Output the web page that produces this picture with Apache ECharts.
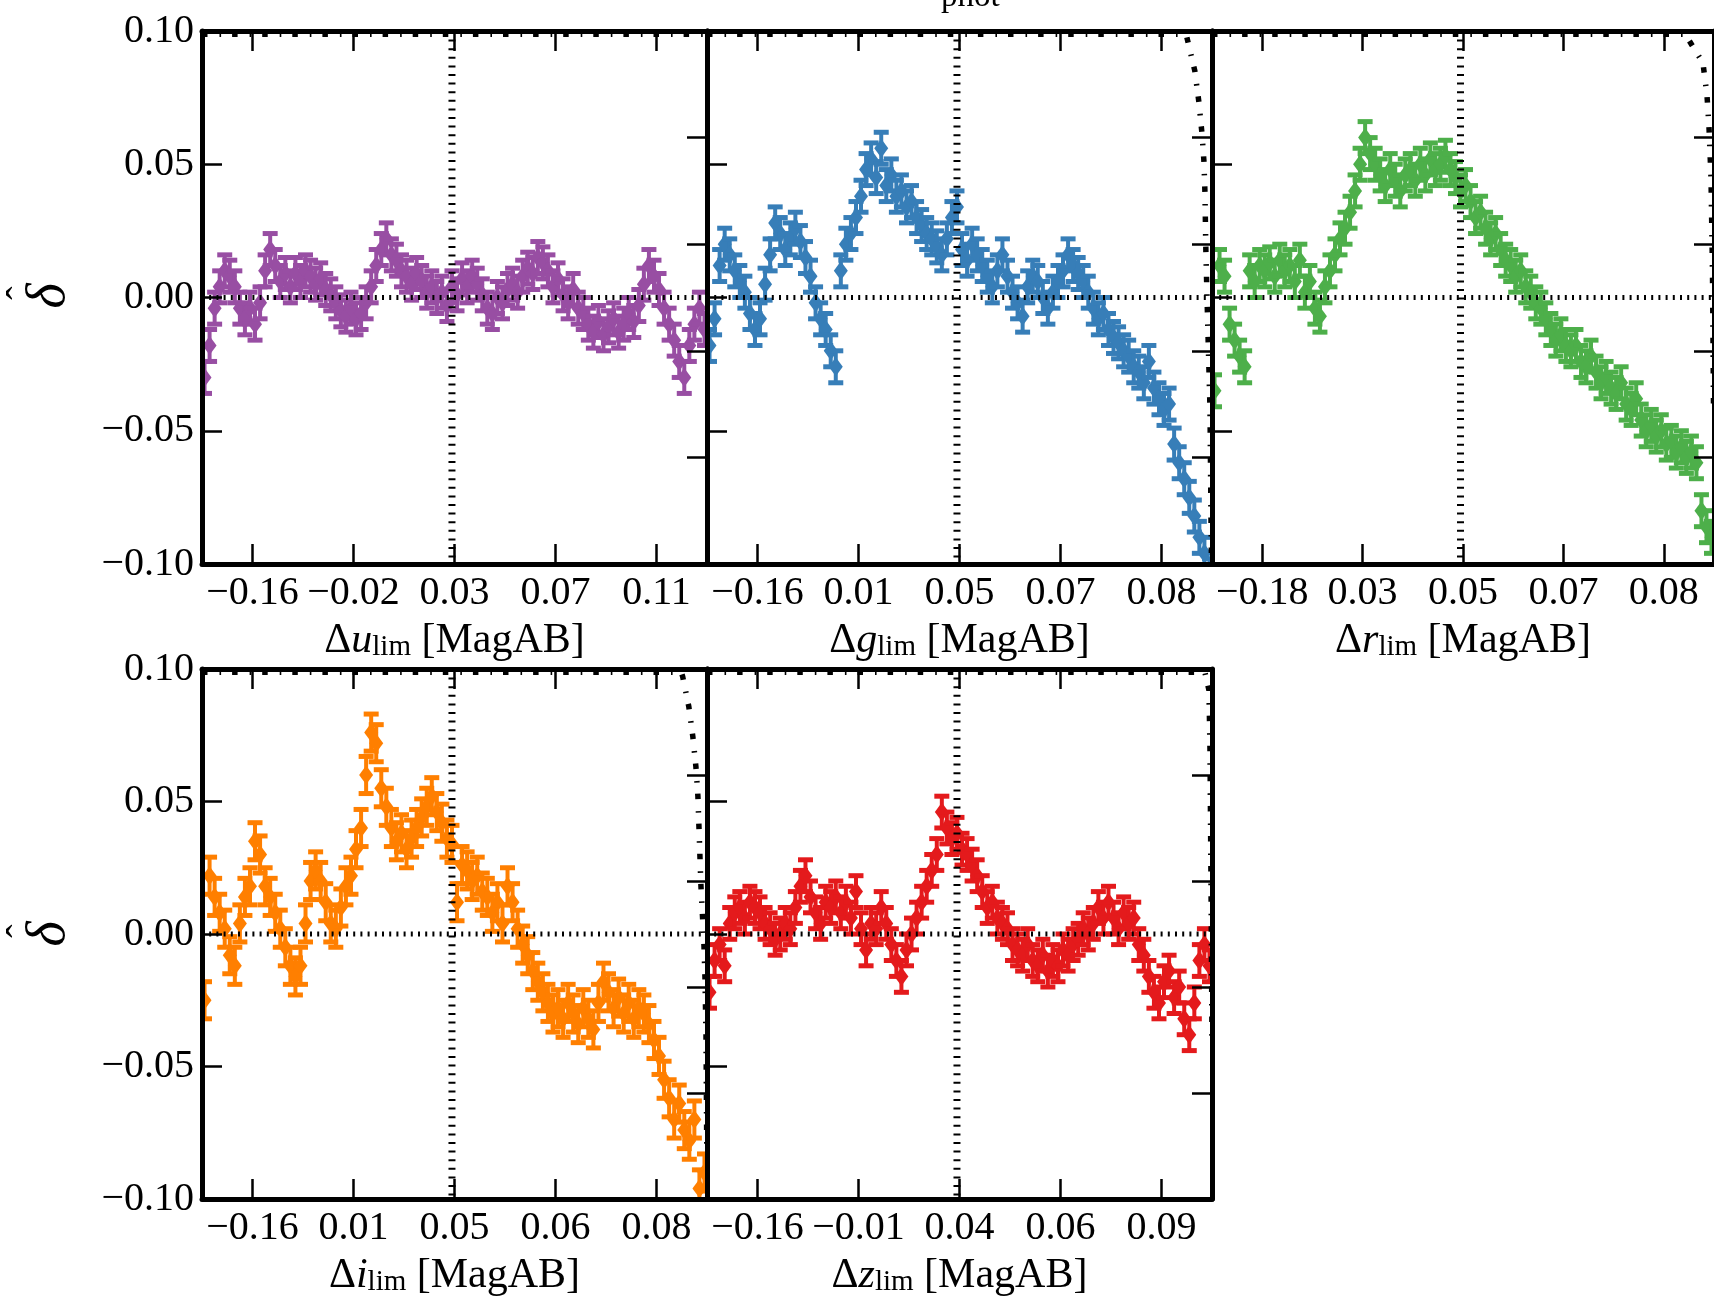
<!DOCTYPE html>
<html>
<head>
<meta charset="utf-8">
<script src="https://cdn.jsdelivr.net/npm/echarts@6/dist/echarts.min.js"></script>
<style>
  html, body { margin: 0; padding: 0; background: #ffffff; }
  #chart { width: 1714px; height: 1298px; }
</style>
</head>
<body>
<div id="chart"></div>
<script>
// Rank positions (percent of the sample) where the quantile ticks sit
const tickRanks = [10, 30, 50, 70, 90];
const medianRank = 49.5;

// Quantile values of the limiting-magnitude offset shown at each tick
const uTicks = ['−0.16', '−0.02', '0.03', '0.07', '0.11'];
const gTicks = ['−0.16', '0.01', '0.05', '0.07', '0.08'];
const rTicks = ['−0.18', '0.03', '0.05', '0.07', '0.08'];
const iTicks = ['−0.16', '0.01', '0.05', '0.06', '0.08'];
const zTicks = ['−0.16', '−0.01', '0.04', '0.06', '0.09'];

// delta-hat in 100 rank bins, one array per band
const uDelta = [
  -0.030, -0.018, -0.004, 0.004, 0.010, 0.008, 0.004, -0.004, -0.008, -0.004,
  -0.010, -0.002, 0.010, 0.018, 0.012, 0.006, 0.009, 0.004, 0.009, 0.006,
  0.010, 0.008, 0.005, 0.007, 0.003, 0.001, -0.002, -0.005, -0.007, -0.004,
  -0.008, -0.006, -0.002, 0.004, 0.012, 0.018, 0.022, 0.016, 0.014, 0.010,
  0.008, 0.005, 0.009, 0.006, 0.002, 0.004, 0.000, 0.002, -0.003, 0.004,
  0.001, 0.007, 0.004, 0.008, 0.005, 0.001, -0.004, -0.006, 0.000, -0.002,
  0.003, 0.005, 0.002, 0.008, 0.011, 0.009, 0.015, 0.013, 0.010, 0.004,
  0.007, 0.001, -0.002, 0.003, -0.004, -0.006, -0.010, -0.013, -0.009, -0.014,
  -0.011, -0.008, -0.013, -0.010, -0.006, -0.009, -0.003, 0.005, 0.012, 0.008,
  0.003, -0.004, -0.010, -0.016, -0.024, -0.030, -0.018, -0.010, -0.004, -0.012
];
const gDelta = [
  -0.018, -0.008, 0.012, 0.020, 0.016, 0.010, 0.006, 0.002, -0.006, -0.012,
  -0.008, 0.005, 0.016, 0.028, 0.024, 0.018, 0.022, 0.026, 0.021, 0.015,
  0.008, -0.002, -0.008, -0.012, -0.020, -0.026, 0.010, 0.020, 0.024, 0.030,
  0.038, 0.048, 0.052, 0.045, 0.056, 0.042, 0.046, 0.038, 0.040, 0.034,
  0.036, 0.030, 0.027, 0.024, 0.022, 0.019, 0.016, 0.022, 0.030, 0.034,
  0.018, 0.014, 0.020, 0.016, 0.012, 0.008, 0.004, 0.010, 0.016, 0.008,
  0.002, -0.002, -0.007, 0.004, 0.008, 0.006, 0.000, -0.004, 0.002, 0.006,
  0.010, 0.016, 0.012, 0.009, 0.006, 0.002, -0.004, -0.008, -0.006, -0.012,
  -0.015, -0.017, -0.020, -0.022, -0.026, -0.028, -0.032, -0.024, -0.034, -0.038,
  -0.042, -0.040, -0.055, -0.062, -0.068, -0.075, -0.082, -0.090, -0.096, -0.104
];
const rDelta = [
  -0.035, 0.012, 0.008, -0.010, -0.016, -0.022, -0.026, 0.010, 0.006, 0.012,
  0.010, 0.013, 0.008, 0.014, 0.010, 0.012, 0.006, 0.014, 0.002, 0.006,
  -0.004, -0.007, 0.004, 0.010, 0.016, 0.022, 0.026, 0.032, 0.040, 0.050,
  0.060, 0.054, 0.050, 0.046, 0.042, 0.048, 0.044, 0.040, 0.046, 0.048,
  0.044, 0.050, 0.046, 0.052, 0.048, 0.050, 0.053, 0.048, 0.045, 0.040,
  0.042, 0.036, 0.030, 0.032, 0.026, 0.022, 0.024, 0.018, 0.014, 0.012,
  0.008, 0.010, 0.004, 0.002, -0.002, -0.004, -0.008, -0.012, -0.016, -0.014,
  -0.018, -0.020, -0.018, -0.024, -0.026, -0.022, -0.028, -0.032, -0.030, -0.034,
  -0.036, -0.032, -0.040, -0.042, -0.038, -0.046, -0.050, -0.048, -0.052, -0.050,
  -0.055, -0.054, -0.058, -0.056, -0.060, -0.058, -0.062, -0.080, -0.086, -0.090
];
const iDelta = [
  -0.025, 0.022, 0.014, 0.008, 0.002, -0.008, -0.012, 0.004, 0.014, 0.018,
  0.035, 0.030, 0.018, 0.014, 0.008, 0.002, -0.005, -0.012, -0.016, -0.012,
  0.004, 0.020, 0.024, 0.020, 0.012, 0.004, 0.002, 0.010, 0.018, 0.022,
  0.032, 0.040, 0.060, 0.076, 0.072, 0.055, 0.048, 0.040, 0.035, 0.038,
  0.032, 0.036, 0.040, 0.044, 0.048, 0.052, 0.046, 0.042, 0.036, 0.034,
  0.012, 0.026, 0.024, 0.020, 0.022, 0.016, 0.014, 0.008, 0.012, 0.004,
  0.018, 0.012, 0.002, -0.004, -0.008, -0.014, -0.018, -0.022, -0.026, -0.030,
  -0.028, -0.032, -0.026, -0.030, -0.034, -0.028, -0.032, -0.036, -0.026, -0.018,
  -0.022, -0.028, -0.024, -0.030, -0.026, -0.032, -0.028, -0.030, -0.034, -0.040,
  -0.046, -0.055, -0.062, -0.070, -0.064, -0.074, -0.078, -0.070, -0.096, -0.090
];
const zDelta = [
  -0.022, -0.010, -0.004, -0.012, 0.004, 0.008, 0.010, 0.006, 0.012, 0.010,
  0.008, 0.004, 0.002, -0.002, 0.000, 0.004, 0.002, 0.010, 0.018, 0.022,
  0.014, 0.008, 0.004, 0.012, 0.010, 0.014, 0.008, 0.012, 0.006, 0.016,
  0.002, -0.006, 0.004, 0.002, 0.010, 0.004, -0.004, -0.010, -0.016, -0.006,
  0.000, 0.006, 0.012, 0.018, 0.024, 0.030, 0.046, 0.040, 0.036, 0.038,
  0.032, 0.030, 0.026, 0.022, 0.016, 0.010, 0.012, 0.006, 0.004, 0.002,
  -0.004, -0.006, -0.008, -0.004, -0.010, -0.012, -0.008, -0.014, -0.010, -0.012,
  -0.006, -0.008, -0.004, -0.002, 0.002, 0.000, 0.004, 0.010, 0.006, 0.012,
  0.006, 0.002, 0.008, 0.004, 0.006, -0.004, -0.008, -0.016, -0.022, -0.026,
  -0.018, -0.014, -0.024, -0.020, -0.032, -0.038, -0.026, -0.010, -0.004, -0.012
];

// 1-sigma uncertainty on delta-hat for each band
const uErr = 0.006;
const gErr = 0.006;
const rErr = 0.006;
const iErr = 0.007;
const zErr = 0.006;

// Cumulative completeness curve per band (rank, fraction), read on the right-hand axis
const uCurve = [[0, 0.994], [100, 0.994]];
const gCurve = [[0, 0.994], [94.6, 0.994], [95.0, 0.989], [96.6, 0.925], [97.4, 0.867], [98.0, 0.809],
  [98.4, 0.756], [98.6, 0.698], [98.8, 0.58], [99.2, 0.433], [99.6, 0.293], [99.8, 0.086], [99.9, 0]];
const rCurve = [[0, 0.994], [94.4, 0.994], [94.6, 0.989], [97.8, 0.94], [98.6, 0.88], [99.0, 0.82],
  [99.4, 0.725], [99.7, 0.55], [99.9, 0.3]];
const iCurve = [[0, 0.994], [94.9, 0.994], [95.2, 0.985], [96.4, 0.929], [97.2, 0.872], [97.8, 0.816],
  [98.2, 0.76], [98.4, 0.704], [98.6, 0.647], [98.8, 0.591], [99.1, 0.535], [99.4, 0.478],
  [99.6, 0.417], [99.8, 0.31], [99.95, 0.1]];
const zCurve = [[0, 0.994], [98.6, 0.994], [98.8, 0.985], [99.4, 0.96], [99.5, 0.904], [99.6, 0.848],
  [99.8, 0.6], [100, 0.3]];

const bands = [
  { band: 'u', delta: uDelta, err: uErr, ticks: uTicks, curve: uCurve, color: '#984ea3', left: 202, top: 31, yLabels: true },
  { band: 'g', delta: gDelta, err: gErr, ticks: gTicks, curve: gCurve, color: '#377eb8', left: 707, top: 31, yLabels: false },
  { band: 'r', delta: rDelta, err: rErr, ticks: rTicks, curve: rCurve, color: '#4daf4a', left: 1212, top: 31, yLabels: false },
  { band: 'i', delta: iDelta, err: iErr, ticks: iTicks, curve: iCurve, color: '#ff7f00', left: 202, top: 669, yLabels: true },
  { band: 'z', delta: zDelta, err: zErr, ticks: zTicks, curve: zCurve, color: '#e41a1c', left: 707, top: 669, yLabels: false }
];

const PANEL_W = 505, PANEL_H = 533;
const SERIF = '"Liberation Serif", "DejaVu Serif", serif';
const BORDER = 5;

function fmtY(v) {
  if (Math.abs(v) < 1e-9) return '0.00';
  return (v < 0 ? '−' : '') + Math.abs(v).toFixed(2);
}

// error bar with caps and a thin diamond marker
function renderErrorBar(params, api) {
  const x = api.value(0), y = api.value(1), e = api.value(2);
  const c = api.coord([x, y]);
  const hi = api.coord([x, y + e]);
  const lo = api.coord([x, y - e]);
  const color = api.visual('color');
  const capW = 7.5, dw = 7, dh = 9.5;
  return {
    type: 'group',
    children: [
      { type: 'line', shape: { x1: c[0], y1: hi[1], x2: c[0], y2: lo[1] }, style: { stroke: color, lineWidth: 4 } },
      { type: 'line', shape: { x1: c[0] - capW, y1: hi[1], x2: c[0] + capW, y2: hi[1] }, style: { stroke: color, lineWidth: 5 } },
      { type: 'line', shape: { x1: c[0] - capW, y1: lo[1], x2: c[0] + capW, y2: lo[1] }, style: { stroke: color, lineWidth: 5 } },
      { type: 'polygon', shape: { points: [[c[0], c[1] - dh], [c[0] + dw, c[1]], [c[0], c[1] + dh], [c[0] - dw, c[1]]] },
        style: { fill: color } }
    ]
  };
}

const grid = [], xAxis = [], yAxis = [], series = [];
const axisLine = { show: true, onZero: false, lineStyle: { color: '#000', width: BORDER } };

bands.forEach((b, k) => {
  grid.push({ left: b.left, top: b.top, width: PANEL_W, height: PANEL_H, containLabel: false });

  // bottom axis: rank, labelled with the quantile values
  xAxis.push({
    type: 'value', gridIndex: k, min: 0, max: 100, position: 'bottom', z: 10,
    axisLine,
    axisTick: { show: true, inside: true, length: 20, customValues: tickRanks, lineStyle: { color: '#000', width: 2.5 } },
    axisLabel: {
      show: true, customValues: tickRanks, margin: 9, color: '#000', fontFamily: SERIF, fontSize: 40,
      formatter: (v) => b.ticks[tickRanks.indexOf(Math.round(v))] || ''
    },
    splitLine: { show: false },
    name: '{d|Δ}{v|' + b.band + '}{s|lim}{d| [MagAB]}',
    nameLocation: 'middle', nameGap: 48,
    nameTextStyle: {
      rich: {
        d: { fontFamily: SERIF, fontSize: 42, color: '#000', lineHeight: 50, verticalAlign: 'bottom' },
        v: { fontFamily: SERIF, fontSize: 42, fontStyle: 'italic', color: '#000', lineHeight: 50, verticalAlign: 'bottom' },
        s: { fontFamily: SERIF, fontSize: 29, color: '#000', lineHeight: 24, verticalAlign: 'bottom' }
      }
    }
  });
  // top axis: mirrored ticks only
  xAxis.push({
    type: 'value', gridIndex: k, min: 0, max: 100, position: 'top', z: 10,
    axisLine,
    axisTick: { show: true, inside: true, length: 20, customValues: tickRanks, lineStyle: { color: '#000', width: 2.5 } },
    axisLabel: { show: false },
    splitLine: { show: false }
  });
  // left axis: delta-hat
  yAxis.push({
    type: 'value', gridIndex: k, min: -0.1, max: 0.1, interval: 0.05, position: 'left', z: 10,
    axisLine,
    axisTick: { show: true, inside: true, length: 20, lineStyle: { color: '#000', width: 2.5 } },
    axisLabel: { show: b.yLabels, margin: 8, color: '#000', fontFamily: SERIF, fontSize: 40, formatter: fmtY },
    splitLine: { show: false }
  });
  // right axis: completeness fraction
  yAxis.push({
    type: 'value', gridIndex: k, min: 0, max: 1, interval: 0.2, position: 'right', z: 10,
    axisLine,
    axisTick: { show: true, inside: true, length: 20, lineStyle: { color: '#000', width: 2.5 } },
    axisLabel: { show: false },
    splitLine: { show: false }
  });

  const pts = b.delta.map((d, i) => [i + 0.5, d, b.err]);
  series.push({
    type: 'custom', xAxisIndex: 2 * k, yAxisIndex: 2 * k, clip: true, z: 4,
    itemStyle: { color: b.color },
    renderItem: renderErrorBar,
    encode: { x: 0, y: 1 },
    data: pts
  });
  // zero reference
  series.push({
    type: 'line', xAxisIndex: 2 * k, yAxisIndex: 2 * k, symbol: 'none', silent: true, z: 5,
    lineStyle: { color: '#000', width: 5, type: [2, 5.2] },
    data: [[0, 0], [100, 0]]
  });
  // median rank
  series.push({
    type: 'line', xAxisIndex: 2 * k, yAxisIndex: 2 * k, symbol: 'none', silent: true, z: 5,
    lineStyle: { color: '#000', width: 7, type: [2, 6.6] },
    data: [[medianRank, 0.1], [medianRank, -0.1]]
  });
  // completeness curve
  series.push({
    type: 'line', xAxisIndex: 2 * k, yAxisIndex: 2 * k + 1, symbol: 'none', silent: true, clip: true, z: 5,
    lineStyle: { color: '#000', width: 5.5, type: [5.5, 12, 1.6, 11] },
    data: b.curve
  });
});

// rotated delta-hat label beside each left-hand column
function deltaHat(cy) {
  return {
    type: 'group', x: 50, y: cy, rotation: Math.PI / 2,
    children: [
      { type: 'text', x: 0, y: 0, style: { text: 'δ', fontFamily: SERIF, fontStyle: 'italic', fontSize: 54,
        fill: '#000', align: 'center', verticalAlign: 'middle' } },
      { type: 'text', x: 3, y: -27, style: { text: 'ˆ', fontFamily: SERIF, fontSize: 40,
        fill: '#000', align: 'center', verticalAlign: 'middle' } }
    ]
  };
}

const chart = echarts.init(document.getElementById('chart'), null, { renderer: 'canvas' });
chart.setOption({
  animation: false,
  backgroundColor: '#ffffff',
  grid, xAxis, yAxis, series,
  graphic: [
    deltaHat(296),
    deltaHat(934),
    // figure heading, sitting mostly above the top edge of the page
    { type: 'text', x: 938, y: 4, style: { text: 'σ', fontFamily: SERIF, fontStyle: 'italic', fontSize: 54,
      fill: '#000', align: 'right', verticalAlign: 'bottom' } },
    { type: 'text', x: 941, y: 14, style: { text: 'phot', fontFamily: SERIF, fontSize: 33,
      fill: '#000', align: 'left', verticalAlign: 'bottom' } }
  ]
});
</script>
</body>
</html>
